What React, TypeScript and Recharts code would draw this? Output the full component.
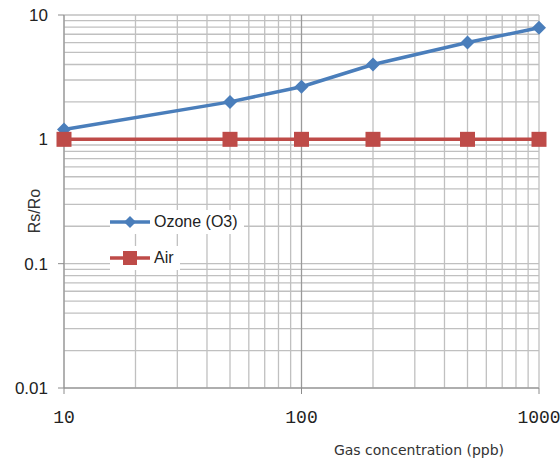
import React from "react";
import {
  LineChart,
  Line,
  XAxis,
  YAxis,
  ReferenceLine,
} from "recharts";

// Rs/Ro vs gas concentration (log-log)
const concentration = [10, 50, 100, 200, 500, 1000];
const ozone = [1.2, 2, 2.65, 4, 6, 7.9];
const air = [1, 1, 1, 1, 1, 1];

const xTicks = [10, 100, 1000];
const yTicks = [0.01, 0.1, 1, 10];
const steps = [1, 2, 3, 4, 5, 6, 7, 8, 9];
const xDecades = [10, 100];
const yDecades = [0.01, 0.1, 1];

const xGrid = xDecades.flatMap((d) => steps.map((s) => s * d)).concat(1000);
const yGrid = yDecades
  .flatMap((d) => steps.map((s) => +(s * d).toFixed(3)))
  .concat(10);

const BLUE = "#4a7ebb";
const RED = "#be4b48";
const GRID = "#c0c0c0";

const data = concentration.map((x, i) => ({ x, ozone: ozone[i], air: air[i] }));

const Diamond = (props: any) => {
  const { cx, cy } = props;
  if (cx == null || cy == null) return null;
  const r = 7;
  return (
    <polygon
      points={`${cx},${cy - r} ${cx + r},${cy} ${cx},${cy + r} ${cx - r},${cy}`}
      fill={BLUE}
    />
  );
};

const Square = (props: any) => {
  const { cx, cy } = props;
  if (cx == null || cy == null) return null;
  const r = 7.5;
  return <rect x={cx - r} y={cy - r} width={r * 2} height={r * 2} fill={RED} />;
};

const legendItems = [
  { name: "Ozone (O3)", color: BLUE, shape: "diamond" },
  { name: "Air", color: RED, shape: "square" },
];

const LegendBox = () => (
  <div style={{ position: "absolute", left: 110, top: 210 }}>
    {legendItems.map((item) => (
      <div
        key={item.name}
        style={{
          display: "flex",
          alignItems: "center",
          background: "#fff",
          height: 24,
          marginBottom: 12,
          width: "fit-content",
          paddingRight: 6,
          fontFamily: "'Liberation Sans', Arial, sans-serif",
          fontSize: 16,
          color: "#222",
        }}
      >
        <svg width={44} height={24}>
          <line x1={0} y1={12} x2={40} y2={12} stroke={item.color} strokeWidth={3.5} />
          {item.shape === "diamond" ? (
            <polygon points="20,6 26,12 20,18 14,12" fill={item.color} />
          ) : (
            <rect x={13} y={5} width={14} height={14} fill={item.color} />
          )}
        </svg>
        <span>{item.name}</span>
      </div>
    ))}
  </div>
);

export default function App() {
  return (
    <div style={{ position: "absolute", left: 0, top: 0, width: 560, height: 461, background: "#fff" }}>
      <LineChart
        width={560}
        height={461}
        data={data}
        margin={{ top: 15, right: 21, bottom: 0, left: 0 }}
      >
        {yGrid.map((v) => (
          <ReferenceLine key={`h-${v}`} y={v} stroke={GRID} strokeWidth={1.3} />
        ))}
        {xGrid.map((v) => (
          <ReferenceLine
            key={`v-${v}`}
            x={v}
            stroke={v === 100 ? "#9a9a9a" : GRID}
            strokeWidth={1.3}
          />
        ))}
        <XAxis
          dataKey="x"
          type="number"
          scale="log"
          domain={[10, 1000]}
          ticks={xTicks}
          height={73}
          tickSize={6}
          tickMargin={16}
          stroke="#8c8c8c"
          tick={{ fill: "#222", fontSize: 18, fontFamily: "'Liberation Mono', monospace" }}
          label={{
            content: () => (
              <text
                x={419}
                y={455}
                textAnchor="middle"
                fill="#333"
                fontSize={14}
                fontFamily="'DejaVu Sans', sans-serif"
              >
                Gas concentration (ppb)
              </text>
            ),
          }}
        />
        <YAxis
          type="number"
          scale="log"
          domain={[0.01, 10]}
          ticks={yTicks}
          width={64}
          tickSize={6}
          tickMargin={10}
          stroke="#8c8c8c"
          tick={{ fill: "#222", fontSize: 17, fontFamily: "'Liberation Sans', Arial, sans-serif" }}
          label={{
            content: () => (
              <text
                x={40}
                y={211}
                textAnchor="middle"
                transform="rotate(-90 40 211)"
                fill="#333"
                fontSize={16}
                fontFamily="'Liberation Sans', Arial, sans-serif"
              >
                Rs/Ro
              </text>
            ),
          }}
        />
        <Line
          dataKey="ozone"
          type="linear"
          stroke={BLUE}
          strokeWidth={3.5}
          dot={(p: any) => <Diamond key={`o-${p.index}`} {...p} />}
          activeDot={false}
          isAnimationActive={false}
        />
        <Line
          dataKey="air"
          type="linear"
          stroke={RED}
          strokeWidth={3.5}
          dot={(p: any) => <Square key={`a-${p.index}`} {...p} />}
          activeDot={false}
          isAnimationActive={false}
        />
      </LineChart>
      <LegendBox />
    </div>
  );
}
